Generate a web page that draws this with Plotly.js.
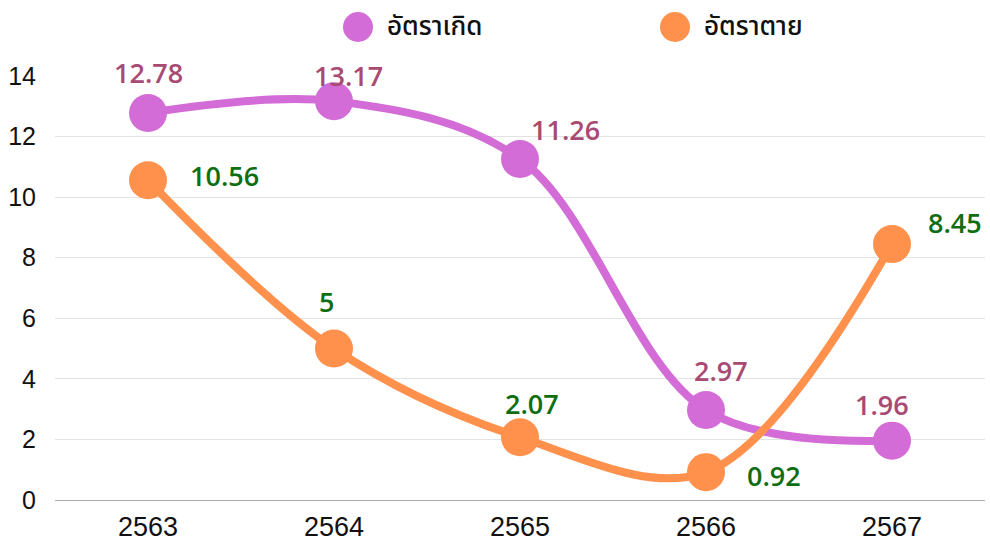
<!DOCTYPE html>
<html><head><meta charset="utf-8">
<script src="https://cdn.plot.ly/plotly-3.0.1.min.js"></script>
<style>html,body{margin:0;padding:0;background:#fff}#c{width:990px;height:549px}</style>
</head><body><div id="c"></div>
<script>
const years = ['2563','2564','2565','2566','2567'];
const birthRate = [12.78, 13.17, 11.26, 2.97, 1.96];
const deathRate = [10.56, 5, 2.07, 0.92, 8.45];
const seriesNames = ['อัตราเกิด', 'อัตราตาย'];
const yTicks = [0, 2, 4, 6, 8, 10, 12, 14];

// label pixel offsets (layout only)
const birthOffsets = [[0,40],[14,26],[45,29],[15,40],[-10,36]];
const deathOffsets = [[76,5],[-8,47],[12,34],[68,-3],[63,22]];

const purple = '#D36CD6', orange = '#FF914D';
const colors = [purple, orange];
const labelFont = {family:'Open Sans, Noto Sans, sans-serif', size:27, weight:600};

const W = 990, H = 549, M = {l:55, r:5, t:76, b:49};
const pw = W - M.l - M.r, ph = H - M.t - M.b;
const px2x = p => (p - M.l) / pw;
const py2y = p => (H - M.b - p) / ph;

const traces = [
  {x: years, y: birthRate, name: seriesNames[0], mode:'lines+markers', type:'scatter', showlegend:false,
   line:{color:purple, width:8, shape:'spline', smoothing:1}, marker:{color:purple, size:38}},
  {x: years, y: deathRate, name: seriesNames[1], mode:'lines+markers', type:'scatter', showlegend:false,
   line:{color:orange, width:8, shape:'spline', smoothing:1}, marker:{color:orange, size:38}}
];

const annotations = [];
years.forEach((yr,i)=>{
  annotations.push({x:i, y:birthRate[i], xref:'x', yref:'y', text:String(birthRate[i]), showarrow:false,
    xshift:birthOffsets[i][0], yshift:birthOffsets[i][1],
    font:Object.assign({}, labelFont, {color:'#A84A72'})});
  annotations.push({x:i, y:deathRate[i], xref:'x', yref:'y', text:String(deathRate[i]), showarrow:false,
    xshift:deathOffsets[i][0], yshift:deathOffsets[i][1],
    font:Object.assign({}, labelFont, {color:'#0E6E12'})});
});

// custom legend (large circle symbols)
const legendX = [358, 675], legendY = 27;
const shapes = [];
seriesNames.forEach((nm, k)=>{
  shapes.push({type:'circle', xref:'paper', yref:'paper', xsizemode:'pixel', ysizemode:'pixel',
    xanchor:px2x(legendX[k]), yanchor:py2y(legendY), x0:-15, x1:15, y0:-15, y1:15,
    fillcolor:colors[k], line:{width:0}});
  annotations.push({xref:'paper', yref:'paper', x:px2x(legendX[k] + 27), y:py2y(legendY),
    xanchor:'left', yanchor:'middle', text:nm, showarrow:false,
    font:{family:'Noto Sans Thai, Noto Sans, sans-serif', size:26, color:'#111', weight:500}});
});

const layout = {
  width:W, height:H,
  margin:{l:M.l, r:M.r, t:M.t, b:M.b, autoexpand:false},
  paper_bgcolor:'#fff', plot_bgcolor:'rgba(0,0,0,0)',
  showlegend:false,
  xaxis:{type:'category', range:[-0.5,4.5], showgrid:false, zeroline:false, showline:false,
    ticks:'', ticklabelstandoff:8, tickfont:{family:'Liberation Sans, Arial, sans-serif', size:27, color:'#111'}},
  yaxis:{range:[0,14], tickvals:yTicks, showgrid:true, gridcolor:'#e3e3e3', gridwidth:1,
    zeroline:true, zerolinecolor:'#aaa', zerolinewidth:1, showline:false, ticks:'',
    ticklabelstandoff:18,
    tickfont:{family:'Liberation Sans, Arial, sans-serif', size:25, color:'#111'}},
  annotations: annotations,
  shapes: shapes
};
Plotly.newPlot('c', traces, layout, {displayModeBar:false, staticPlot:true});
</script></body></html>
